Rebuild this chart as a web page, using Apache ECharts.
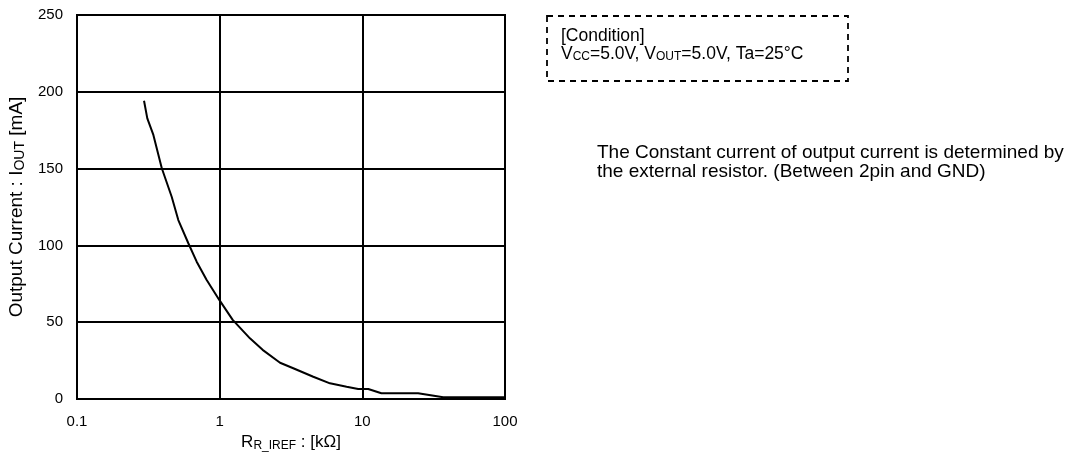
<!DOCTYPE html>
<html>
<head>
<meta charset="utf-8">
<script src="https://cdn.jsdelivr.net/npm/echarts@6/dist/echarts.min.js"></script>
<style>
html,body{margin:0;padding:0;background:#fff;}
#c{width:1081px;height:459px;}
</style>
</head>
<body>
<div id="c"></div>
<script>
// Data
const resistanceK = [0.295,0.311,0.343,0.393,0.461,0.513,0.603,0.69,0.811,0.994,1.234,1.63,2.0,2.65,3.28,4.53,5.93,7.76,9.35,11.0,13.6,24.6,36.9,100];
const currentMA  = [194.2,182.7,171.9,150.2,131.7,116.5,101.4,89.4,77.5,64.5,51.5,39.5,32.0,23.6,20.0,14.5,10.2,8.0,6.5,6.5,3.7,3.7,1.1,1.1];
const yTicks = [0,50,100,150,200,250];
const xTicks = [0.1,1,10,100];

const FONT = '"Liberation Sans", Arial, sans-serif';
const chart = echarts.init(document.getElementById('c'), null, {renderer:'canvas'});
const points = resistanceK.map((x,i)=>[x,currentMA[i]]);

chart.setOption({
  animation:false,
  backgroundColor:'#fff',
  textStyle:{fontFamily:FONT,color:'#000'},
  grid:{left:77,right:576,top:15,bottom:60,show:true,borderColor:'#000',borderWidth:2,containLabel:false},
  xAxis:{
    type:'log',logBase:10,min:xTicks[0],max:xTicks[xTicks.length-1],
    name:'R{sub|R_IREF} : [kΩ]',nameLocation:'middle',nameGap:32,
    nameTextStyle:{fontFamily:FONT,fontSize:17,color:'#000',rich:{sub:{fontFamily:FONT,fontSize:12,color:'#000',verticalAlign:'bottom',padding:[6,0,0,0]}}},
    axisLine:{show:true,lineStyle:{color:'#000',width:2}},
    axisTick:{show:false},
    axisLabel:{fontFamily:FONT,fontSize:15,color:'#000',margin:15,formatter:v=>String(+v.toPrecision(3))},
    splitLine:{show:true,lineStyle:{color:'#000',width:2}},
    minorTick:{show:false},minorSplitLine:{show:false}
  },
  yAxis:{
    type:'value',min:yTicks[0],max:yTicks[yTicks.length-1],interval:50,
    name:'Output Current : I{sub|OUT} [mA]',nameLocation:'middle',nameRotate:90,nameGap:50,
    nameTextStyle:{fontFamily:FONT,fontSize:19,color:'#000',rich:{sub:{fontFamily:FONT,fontSize:14,color:'#000',verticalAlign:'bottom',padding:[6,0,0,0]}}},
    axisLine:{show:true,lineStyle:{color:'#000',width:2}},
    axisTick:{show:false},
    axisLabel:{fontFamily:FONT,fontSize:15,color:'#000',margin:14},
    splitLine:{show:true,lineStyle:{color:'#000',width:2}}
  },
  series:[{
    type:'line',data:points,showSymbol:false,symbol:'none',smooth:false,
    lineStyle:{color:'#000',width:2},z:5
  }],
  graphic:[
    {type:'rect',shape:{x:547,y:16,width:301,height:65},style:{fill:'none',stroke:'#000',lineWidth:1.8,lineDash:[6,5]},silent:true},
    {type:'text',x:561,y:27,style:{
      text:'[Condition]\nV{sub|CC}=5.0V, V{sub|OUT}=5.0V, Ta=25°C',
      font:'17.5px '+FONT,fill:'#000',lineHeight:18,
      rich:{sub:{fontSize:12,fontFamily:FONT,fill:'#000',verticalAlign:'bottom',lineHeight:18,padding:[5,0,0,0]}}
    }},
    {type:'text',x:597,y:143,style:{
      text:'The Constant current of output current is determined by\nthe external resistor. (Between 2pin and GND)',
      font:'19px '+FONT,fill:'#000',lineHeight:19
    }}
  ]
});
</script>
</body>
</html>
